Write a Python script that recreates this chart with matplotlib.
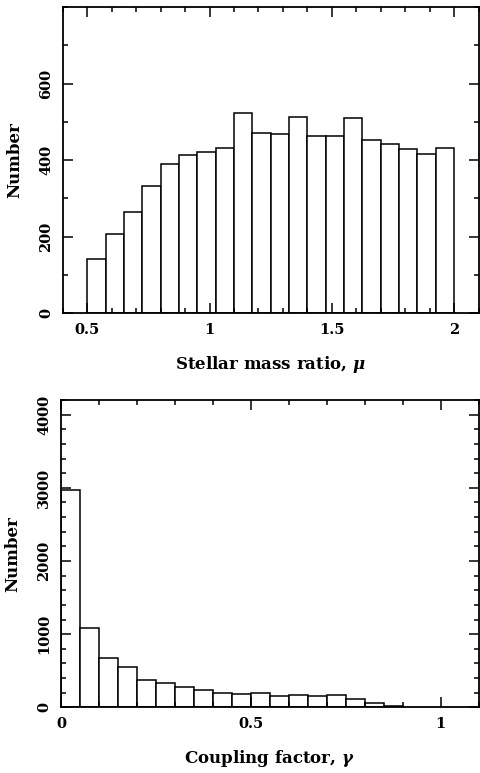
import numpy as np
import matplotlib
matplotlib.use("Agg")
import matplotlib.pyplot as plt
from matplotlib.ticker import MultipleLocator

plt.rcParams['font.family'] = ['DejaVu Serif']
plt.rcParams['font.weight'] = 'bold'
plt.rcParams['mathtext.fontset'] = 'dejavuserif'

# top panel: stellar mass ratio histogram (bins of 0.075 from 0.5 to 2.0)
mu_edges = np.linspace(0.5, 2.0, 21)
mu_counts = [143, 207, 265, 332, 390, 413, 421, 432, 523, 470,
             467, 513, 463, 463, 511, 453, 442, 429, 416, 432]

# bottom panel: coupling factor histogram (bins of 0.05)
gamma_edges = np.linspace(0.0, 0.9, 19)
gamma_counts = [2977, 1078, 680, 553, 370, 338, 283, 242, 201, 178,
                192, 160, 169, 155, 164, 119, 55, 18]

fig = plt.figure(figsize=(4.8, 7.73), dpi=100)
ax1 = fig.add_axes([0.131, 0.5947, 0.866, 0.3963])
ax2 = fig.add_axes([0.127, 0.085, 0.870, 0.3975])


def style(ax, xmaj, xmin, ymaj, ymin):
    ax.xaxis.set_major_locator(MultipleLocator(xmaj))
    ax.xaxis.set_minor_locator(MultipleLocator(xmin))
    ax.yaxis.set_major_locator(MultipleLocator(ymaj))
    ax.yaxis.set_minor_locator(MultipleLocator(ymin))
    ax.tick_params(which='both', direction='in', top=True, right=True,
                   width=1.1, labelsize=10.5)
    ax.tick_params(which='major', length=7, pad=7)
    ax.tick_params(which='minor', length=3.5)
    for s in ax.spines.values():
        s.set_linewidth(1.3)


ax1.bar(mu_edges[:-1], mu_counts, width=np.diff(mu_edges), align='edge',
        facecolor='white', edgecolor='black', linewidth=1.1)
ax1.set_xlim(0.4, 2.1)
ax1.set_ylim(0, 800)
style(ax1, 0.5, 0.1, 200, 100)
ax1.set_xticks([0.5, 1, 1.5, 2])
ax1.set_xticklabels(['0.5', '1', '1.5', '2'])
ax1.set_yticks([0, 200, 400, 600])
ax1.set_yticklabels(['0', '200', '400', '600'], rotation=90, va='center')
ax1.set_xlabel(r'Stellar mass ratio, $\mu$', fontsize=12, fontweight='bold', labelpad=12)
ax1.set_ylabel('Number', fontsize=12, fontweight='bold')
ax1.yaxis.set_label_coords(-0.095, 0.5)

ax2.bar(gamma_edges[:-1], gamma_counts, width=np.diff(gamma_edges), align='edge',
        facecolor='white', edgecolor='black', linewidth=1.1)
ax2.set_xlim(0, 1.1)
ax2.set_ylim(0, 4200)
style(ax2, 0.5, 0.1, 1000, 200)
ax2.set_xticks([0, 0.5, 1])
ax2.set_xticklabels(['0', '0.5', '1'])
ax2.set_yticks([0, 1000, 2000, 3000, 4000])
ax2.set_yticklabels(['0', '1000', '2000', '3000', '4000'], rotation=90, va='center')
ax2.set_xlabel(r'Coupling factor, $\gamma$', fontsize=12, fontweight='bold', labelpad=12)
ax2.set_ylabel('Number', fontsize=12, fontweight='bold')
ax2.yaxis.set_label_coords(-0.095, 0.5)

fig.savefig('out.png', dpi=100)
